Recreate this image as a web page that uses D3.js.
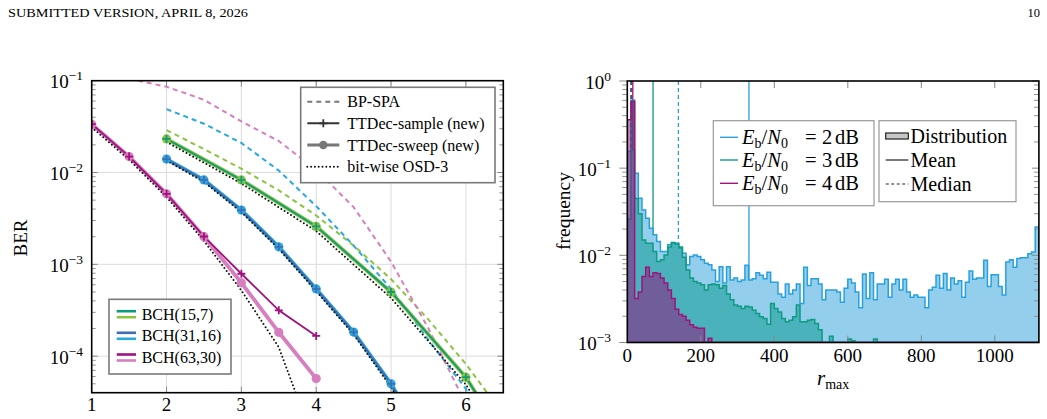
<!DOCTYPE html>
<html>
<head>
<meta charset="utf-8">
<script src="https://cdn.jsdelivr.net/npm/d3@7"></script>
<style>
  body { margin: 0; background: #fff; }
  svg { font-family: "Liberation Serif", "DejaVu Serif", serif; }
</style>
</head>
<body>
<svg id="fig" width="1047" height="419"></svg>
<script>
// ---------------- data: BER vs Eb/N0 (left panel)
const bch15_x      = [2, 3, 4, 5, 6, 7];
const bch15_sample = [0.0232, 0.0083, 0.00259, 5.0e-4, 5.9e-5, 3e-6];
const bch15_sweep  = [0.0232, 0.0083, 0.00259, 5.0e-4, 5.9e-5, 3e-6];
const bch15_osd    = [0.0215, 0.0076, 0.0023, 4.3e-4, 4.9e-5, 2.5e-6];
const bch15_bp_x   = [2, 2.5, 3, 3.5, 4, 4.5, 5, 5.5, 6, 6.5, 7];
const bch15_bp     = [0.029, 0.018, 0.011, 0.0064, 0.0034, 0.0016, 6.9e-4, 2.5e-4, 8.2e-5, 2.3e-5, 5e-6];

const bch31_x      = [2, 2.5, 3, 3.5, 4, 4.5, 5, 5.5];
const bch31_sample = [0.014, 0.0083, 0.0039, 0.00155, 5.4e-4, 1.83e-4, 5.0e-5, 1.0e-5];
const bch31_sweep  = [0.014, 0.0083, 0.0039, 0.00155, 5.4e-4, 1.83e-4, 5.0e-5, 1.0e-5];
const bch31_osd    = [0.0135, 0.0079, 0.0037, 0.00147, 5.1e-4, 1.72e-4, 4.6e-5, 9e-6];
const bch31_bp_x   = [2, 2.5, 3, 3.5, 4, 4.5, 5, 5.5, 6, 6.5];
const bch31_bp     = [0.049, 0.034, 0.021, 0.0105, 0.0043, 0.0016, 5.4e-4, 1.5e-4, 4.4e-5, 1e-5];

const bch63_x      = [1, 1.5, 2, 2.5, 3, 3.5, 4];
const bch63_sample = [0.0336, 0.0149, 0.00586, 0.00201, 7.9e-4, 3.16e-4, 1.66e-4];
const bch63_sweep  = [0.0336, 0.0149, 0.00586, 0.0020, 6.3e-4, 1.82e-4, 5.7e-5];
const bch63_osd    = [0.031, 0.0138, 0.0054, 0.0018, 5.2e-4, 1.25e-4, 1.0e-5];
const bch63_bp_x   = [1.5, 2, 2.5, 3, 3.5, 4, 4.5, 5, 5.5, 6, 6.5];
const bch63_bp     = [0.105, 0.086, 0.062, 0.036, 0.022, 0.0107, 0.0042, 0.00107, 2.0e-4, 3e-5, 3e-6];

const codeNames = ["BCH(15,7)", "BCH(31,16)", "BCH(63,30)"];
const methodNames = ["BP-SPA", "TTDec-sample (new)", "TTDec-sweep (new)", "bit-wise OSD-3"];
const berTicksX = [1, 2, 3, 4, 5, 6];
const berTicksY = [-4, -3, -2, -1];

// ---------------- data: histogram of r_max (right panel), bins of width 10
const binWidth = 10;
const freq2dB = [0.155, 0.16, 0.0874, 0.0452, 0.0332, 0.0267, 0.0205, 0.0172, 0.0144, 0.0111,
  0.0111, 0.0132, 0.0138, 0.0138, 0.0121, 0.0106, 0.0078, 0.0097, 0.0101, 0.0097,
  0.0089, 0.0081, 0.0078, 0.0068, 0.0050, 0.0074, 0.0048, 0.0074, 0.0052, 0.0055,
  0.0050, 0.0052, 0.0077, 0.0052, 0.0054, 0.0063, 0.0059, 0.0054, 0.0064, 0.0049,
  0.0049, 0.0036, 0.0033, 0.0047, 0.0036, 0.0040, 0.0047, 0.0028, 0.0073, 0.0045,
  0.0054, 0.0054, 0.0047, 0.0031, 0.0040, 0.0040, 0.0040, 0.0038, 0.0029, 0.0042,
  0.0053, 0.0048, 0.0038, 0.0025, 0.0061, 0.0032, 0.0063, 0.0031, 0.0047, 0.0047,
  0.0053, 0.0033, 0.0047, 0.0053, 0.0040, 0.0053, 0.0038, 0.0033, 0.0035, 0.0033,
  0.0033, 0.0025, 0.0040, 0.0043, 0.0059, 0.0042, 0.0062, 0.0040, 0.0055, 0.0047,
  0.0051, 0.0033, 0.0049, 0.0066, 0.0053, 0.0055, 0.0055, 0.0088, 0.0044, 0.0060,
  0.0060, 0.0044, 0.0035, 0.0084, 0.0089, 0.0073, 0.0092, 0.0094, 0.0094, 0.0104,
  0.0109, 0.0211];
const freq3dB = [0.026, 0.60, 0.045, 0.030, 0.015, 0.0138, 0.0138, 0.0111, 0.0085, 0.0089,
  0.0101, 0.0125, 0.0140, 0.0135, 0.0125, 0.0095, 0.0068, 0.0055, 0.0050, 0.0048,
  0.0046, 0.0040, 0.0046, 0.0047, 0.0046, 0.0042, 0.0045, 0.0036, 0.0031, 0.0027,
  0.0026, 0.00245, 0.0026, 0.00256, 0.00235, 0.00215, 0.00197, 0.00188, 0.00162, 0.0028,
  0.00245, 0.00224, 0.00188, 0.00173, 0.0018, 0.00197, 0.0027, 0.00173, 0.00173, 0.0018,
  0.00183, 0.00165, 0.0014, 0, 0, 0.00118, 0, 0, 0, 0,
  0.0011, 0.00105, 0, 0, 0, 0, 0, 0.0011, 0, 0,
  0, 0, 0, 0, 0, 0, 0, 0, 0, 0,
  0, 0, 0, 0, 0, 0, 0, 0, 0, 0,
  0, 0, 0, 0, 0, 0, 0, 0, 0, 0,
  0, 0, 0, 0, 0, 0, 0, 0, 0, 0,
  0, 0];
const freq4dB = [0.36, 0.58, 0.0032, 0.0038, 0.0057, 0.0073, 0.0057, 0.0063, 0.0062, 0.0055,
  0.0048, 0.0040, 0.0032, 0.0024, 0.0021, 0.0020, 0.0018, 0.0016, 0.0015, 0.00146,
  0.00146, 0, 0.00112, 0, 0, 0, 0, 0, 0, 0,
  0, 0, 0, 0, 0, 0, 0, 0, 0, 0,
  0, 0, 0, 0, 0, 0, 0, 0, 0, 0,
  0, 0, 0, 0, 0, 0, 0, 0, 0, 0,
  0, 0, 0, 0, 0, 0, 0, 0, 0, 0,
  0, 0, 0, 0, 0, 0, 0, 0, 0, 0,
  0, 0, 0, 0, 0, 0, 0, 0, 0, 0,
  0, 0, 0, 0, 0, 0, 0, 0, 0, 0,
  0, 0, 0, 0, 0, 0, 0, 0, 0, 0,
  0, 0];
const meanR   = [331, 70, 15];
const medianR = [139, 9, 12];
const snrLabels = ["2", "3", "4"];
const histTicksX = [0, 200, 400, 600, 800, 1000];
const histTicksY = [-3, -2, -1, 0];

// ---------------- page
const svg = d3.select("#fig");

svg.append("text").attr("x", 8).attr("y", 17).style("font-size", "12.5px")
   .attr("textLength", 240).attr("lengthAdjust", "spacingAndGlyphs")
   .text("SUBMITTED VERSION, APRIL 8, 2026");
svg.append("text").attr("x", 1040).attr("y", 17).attr("text-anchor", "end")
   .style("font-size", "12.5px").text("10");

function powLabel(g, x, y, exp, anchor, fs, sfs) {
  const t = g.append("text").attr("x", x).attr("y", y).attr("text-anchor", anchor)
             .style("font-size", fs + "px");
  t.append("tspan").text("10");
  t.append("tspan").attr("dy", -fs * 0.42).style("font-size", sfs + "px")
   .text(exp < 0 ? "\u2212" + (-exp) : String(exp));
}

// =============== LEFT PANEL ===============
const L = {x0: 91.7, x1: 503.3, y0: 80.7, y1: 392.7};
const xL = d3.scaleLinear().domain([1, 6.5]).range([L.x0, L.x1]);
const yL = d3.scaleLog().domain([4e-5, 0.1]).range([L.y1, L.y0]);

const gL = svg.append("g");
gL.append("clipPath").attr("id", "clipL").append("rect")
  .attr("x", L.x0).attr("y", L.y0).attr("width", L.x1 - L.x0).attr("height", L.y1 - L.y0);

// grid
gL.selectAll("line.gx").data(berTicksX.slice(1)).enter().append("line")
  .attr("x1", d => xL(d)).attr("x2", d => xL(d)).attr("y1", L.y0).attr("y2", L.y1)
  .attr("stroke", "#dcdcdc").attr("stroke-width", 1);
gL.selectAll("line.gy").data(berTicksY.slice(0, 3)).enter().append("line")
  .attr("x1", L.x0).attr("x2", L.x1).attr("y1", d => yL(Math.pow(10, d))).attr("y2", d => yL(Math.pow(10, d)))
  .attr("stroke", "#dcdcdc").attr("stroke-width", 1);

// ticks
const minorL = yL.ticks().filter(v => Math.abs(Math.log10(v) - Math.round(Math.log10(v))) > 1e-6);
[[L.x0, 1], [L.x1, -1]].forEach(([x, s]) => {
  gL.selectAll(null).data(minorL).enter().append("line")
    .attr("x1", x).attr("x2", x + s * 4).attr("y1", d => yL(d)).attr("y2", d => yL(d))
    .attr("stroke", "#888").attr("stroke-width", 0.9);
  gL.selectAll(null).data(berTicksY).enter().append("line")
    .attr("x1", x).attr("x2", x + s * 6).attr("y1", d => yL(Math.pow(10, d))).attr("y2", d => yL(Math.pow(10, d)))
    .attr("stroke", "#888").attr("stroke-width", 1);
});
[[L.y0, 1], [L.y1, -1]].forEach(([y, s]) => {
  gL.selectAll(null).data(berTicksX).enter().append("line")
    .attr("x1", d => xL(d)).attr("x2", d => xL(d)).attr("y1", y).attr("y2", y + s * 6)
    .attr("stroke", "#888").attr("stroke-width", 1);
});

// curves
const codes = [
  {x: bch15_x, sample: bch15_sample, sweep: bch15_sweep, osd: bch15_osd, bpx: bch15_bp_x, bp: bch15_bp, dark: "#0f9a7c", light: "#8dc43f"},
  {x: bch31_x, sample: bch31_sample, sweep: bch31_sweep, osd: bch31_osd, bpx: bch31_bp_x, bp: bch31_bp, dark: "#3f6db3", light: "#28a8e0"},
  {x: bch63_x, sample: bch63_sample, sweep: bch63_sweep, osd: bch63_osd, bpx: bch63_bp_x, bp: bch63_bp, dark: "#a0127e", light: "#d77ebf"}
];
const lineL = d3.line().x(d => xL(d[0])).y(d => yL(d[1]));
const plot = gL.append("g").attr("clip-path", "url(#clipL)");

codes.forEach(c => {
  plot.append("path").datum(d3.zip(c.bpx, c.bp)).attr("d", lineL)
    .attr("fill", "none").attr("stroke", c.light).attr("stroke-width", 2)
    .attr("stroke-dasharray", "5,4");
});
codes.forEach(c => {
  const pts = d3.zip(c.x, c.sweep);
  plot.append("path").datum(pts).attr("d", lineL)
    .attr("fill", "none").attr("stroke", c.light).attr("stroke-width", 3.8);
  plot.append("path").datum(d3.zip(c.x, c.sample)).attr("d", lineL)
    .attr("fill", "none").attr("stroke", c.dark).attr("stroke-width", 1.8);
  plot.append("path").datum(d3.zip(c.x, c.osd)).attr("d", lineL)
    .attr("fill", "none").attr("stroke", "#111").attr("stroke-width", 2)
    .attr("stroke-linecap", "round").attr("stroke-dasharray", "0,3.8");
  plot.selectAll(null).data(pts).enter().append("circle")
    .attr("cx", d => xL(d[0])).attr("cy", d => yL(d[1])).attr("r", 4.6)
    .attr("fill", c.light);
  plot.selectAll(null).data(d3.zip(c.x, c.sample)).enter().append("path")
    .attr("transform", d => `translate(${xL(d[0])},${yL(d[1])})`)
    .attr("d", "M-4,0H4M0,-4V4").attr("stroke", c.dark).attr("stroke-width", 1.8);
});

// frame
gL.append("rect").attr("x", L.x0).attr("y", L.y0).attr("width", L.x1 - L.x0).attr("height", L.y1 - L.y0)
  .attr("fill", "none").attr("stroke", "#000").attr("stroke-width", 1.6);

// tick labels
berTicksX.forEach(v => {
  gL.append("text").attr("x", xL(v)).attr("y", 411).attr("text-anchor", "middle")
    .style("font-size", "19px").text(v);
});
berTicksY.forEach(e => powLabel(gL, 83, yL(Math.pow(10, e)) + 7.5, e, "end", 19, 13.5));
gL.append("text").attr("transform", "translate(27,238) rotate(-90)").attr("text-anchor", "middle")
  .style("font-size", "19px").text("BER");

// legend: methods
const lg1 = gL.append("g");
lg1.append("rect").attr("x", 300.7).attr("y", 87.3).attr("width", 194.3).attr("height", 95.4)
   .attr("fill", "#fff").attr("stroke", "#7a7a7a").attr("stroke-width", 1.6);
const rows1 = [101.7, 123.3, 145, 166.7];
methodNames.forEach((name, i) => {
  const y = rows1[i];
  const ln = lg1.append("line").attr("x1", 307.3).attr("x2", 339.3).attr("y1", y).attr("y2", y).attr("fill", "none");
  if (i === 0) ln.attr("stroke", "#777").attr("stroke-width", 2).attr("stroke-dasharray", "5,4");
  if (i === 1) {
    ln.attr("stroke", "#333").attr("stroke-width", 2);
    lg1.append("path").attr("transform", `translate(323.3,${y})`).attr("d", "M-4,0H4M0,-4V4")
       .attr("stroke", "#333").attr("stroke-width", 1.8);
  }
  if (i === 2) {
    ln.attr("stroke", "#777").attr("stroke-width", 3);
    lg1.append("circle").attr("cx", 323.3).attr("cy", y).attr("r", 4.2).attr("fill", "#777");
  }
  if (i === 3) ln.attr("stroke", "#111").attr("stroke-width", 2).attr("stroke-linecap", "round")
                 .attr("stroke-dasharray", "0,3.8");
  lg1.append("text").attr("x", 347.3).attr("y", y + 5.5).style("font-size", "16px").text(name);
});

// legend: codes
const lg2 = gL.append("g");
lg2.append("rect").attr("x", 109).attr("y", 299.3).attr("width", 122).attr("height", 74.7)
   .attr("fill", "#fff").attr("stroke", "#7a7a7a").attr("stroke-width", 1.6);
const rows2 = [314.2, 335.8, 357.5];
codes.forEach((c, i) => {
  const y = rows2[i];
  lg2.append("line").attr("x1", 116.7).attr("x2", 136).attr("y1", y - 3).attr("y2", y - 3)
     .attr("stroke", c.dark).attr("stroke-width", 2.6);
  lg2.append("line").attr("x1", 116.7).attr("x2", 136).attr("y1", y + 3).attr("y2", y + 3)
     .attr("stroke", c.light).attr("stroke-width", 2.6);
  lg2.append("text").attr("x", 141.7).attr("y", y + 5.5).style("font-size", "16px").text(codeNames[i]);
});

// =============== RIGHT PANEL ===============
const R = {x0: 627.3, x1: 1038.9, y0: 81, y1: 342.5};
const xR = d3.scaleLinear().domain([0, binWidth * freq2dB.length]).range([R.x0, R.x1]);
const yR = d3.scaleLog().domain([1e-3, 1]).range([R.y1, R.y0]).clamp(true);
const gR = svg.append("g");
gR.append("clipPath").attr("id", "clipR").append("rect")
  .attr("x", R.x0).attr("y", R.y0).attr("width", R.x1 - R.x0).attr("height", R.y1 - R.y0);

const hist = [
  {f: freq2dB, stroke: "#27a1dc", fill: "rgb(147,207,237)"},
  {f: freq3dB, stroke: "#0f9a82", fill: "rgba(0,150,135,0.5)"},
  {f: freq4dB, stroke: "#a0127e", fill: "rgba(150,10,120,0.5)"}
];
const pr = gR.append("g").attr("clip-path", "url(#clipR)");

// mean / median lines (behind the histograms)
hist.forEach((h, i) => {
  pr.append("line").attr("x1", xR(meanR[i])).attr("x2", xR(meanR[i])).attr("y1", R.y0).attr("y2", R.y1)
    .attr("stroke", h.stroke).attr("stroke-width", 1.3);
  pr.append("line").attr("x1", xR(medianR[i])).attr("x2", xR(medianR[i])).attr("y1", R.y0).attr("y2", R.y1)
    .attr("stroke", h.stroke).attr("stroke-width", 1.3).attr("stroke-dasharray", "4,3");
});

const areaR = d3.area().curve(d3.curveStepAfter)
  .x(d => xR(d[0])).y0(yR(1e-3)).y1(d => yR(Math.max(d[1], 5e-4)));
hist.forEach(h => {
  const pts = h.f.map((v, k) => [k * binWidth, v]);
  pts.push([h.f.length * binWidth, h.f[h.f.length - 1]]);
  pr.append("path").datum(pts).attr("d", areaR)
    .attr("fill", h.fill).attr("stroke", h.stroke).attr("stroke-width", 1.5);
});

// ticks
const minorR = yR.ticks().filter(v => Math.abs(Math.log10(v) - Math.round(Math.log10(v))) > 1e-6);
gR.selectAll(null).data(minorR).enter().append("line")
  .attr("x1", R.x0 - 5).attr("x2", R.x0).attr("y1", d => yR(d)).attr("y2", d => yR(d))
  .attr("stroke", "#888").attr("stroke-width", 0.9);
gR.selectAll(null).data(histTicksY).enter().append("line")
  .attr("x1", R.x0 - 8).attr("x2", R.x0).attr("y1", d => yR(Math.pow(10, d))).attr("y2", d => yR(Math.pow(10, d)))
  .attr("stroke", "#888").attr("stroke-width", 1);
gR.selectAll(null).data(minorR).enter().append("line")
  .attr("x1", R.x1 - 5).attr("x2", R.x1).attr("y1", d => yR(d)).attr("y2", d => yR(d))
  .attr("stroke", "#888").attr("stroke-width", 0.9);
gR.selectAll(null).data(histTicksY).enter().append("line")
  .attr("x1", R.x1 - 7).attr("x2", R.x1).attr("y1", d => yR(Math.pow(10, d))).attr("y2", d => yR(Math.pow(10, d)))
  .attr("stroke", "#888").attr("stroke-width", 1);
[[R.y0, 1], [R.y1, -1]].forEach(([y, s]) => {
  gR.selectAll(null).data(histTicksX.slice(1)).enter().append("line")
    .attr("x1", d => xR(d)).attr("x2", d => xR(d)).attr("y1", y).attr("y2", y + s * 7)
    .attr("stroke", "#888").attr("stroke-width", 1);
});

gR.append("rect").attr("x", R.x0).attr("y", R.y0).attr("width", R.x1 - R.x0).attr("height", R.y1 - R.y0)
  .attr("fill", "none").attr("stroke", "#000").attr("stroke-width", 1.6);

histTicksX.forEach(v => {
  gR.append("text").attr("x", xR(v)).attr("y", 361.5).attr("text-anchor", "middle")
    .style("font-size", "19px").text(v);
});
histTicksY.forEach(e => powLabel(gR, 611, yR(Math.pow(10, e)) + 7.5, e, "end", 19, 13.5));
gR.append("text").attr("transform", "translate(570,211) rotate(-90)").attr("text-anchor", "middle")
  .style("font-size", "19.5px").text("frequency");
const xl = gR.append("text").attr("x", 817).attr("y", 385).style("font-size", "21px");
xl.append("tspan").style("font-style", "italic").text("r");
xl.append("tspan").attr("dy", 4).style("font-size", "14px").text("max");

// legend: SNR
const lg3 = gR.append("g");
lg3.append("rect").attr("x", 713.3).attr("y", 120.7).attr("width", 160.7).attr("height", 85)
   .attr("fill", "#fff").attr("stroke", "#999").attr("stroke-width", 1.2);
const rows3 = [137.3, 160, 183.3];
hist.forEach((h, i) => {
  const y = rows3[i];
  lg3.append("line").attr("x1", 720).attr("x2", 738).attr("y1", y).attr("y2", y)
     .attr("stroke", h.stroke).attr("stroke-width", 1.4);
  const t = lg3.append("text").attr("x", 742).attr("y", y + 6.5).style("font-size", "20.5px");
  t.append("tspan").style("font-style", "italic").text("E");
  t.append("tspan").attr("dy", 4).style("font-size", "14px").text("b");
  t.append("tspan").attr("dy", -4).text("/");
  t.append("tspan").style("font-style", "italic").text("N");
  t.append("tspan").attr("dy", 4).style("font-size", "14px").text("0");
  t.append("tspan").attr("dy", -4).attr("x", 805).text("=");
  t.append("tspan").attr("x", 822).text(snrLabels[i]);
  t.append("tspan").attr("x", 835).text("dB");
});

// legend: line types
const lg4 = gR.append("g");
lg4.append("rect").attr("x", 879).attr("y", 120.7).attr("width", 137).attr("height", 81)
   .attr("fill", "#fff").attr("stroke", "#999").attr("stroke-width", 1.2);
lg4.append("rect").attr("x", 885.7).attr("y", 133).attr("width", 22.6).attr("height", 6)
   .attr("fill", "#c8c8c8").attr("stroke", "#222").attr("stroke-width", 1.2);
lg4.append("line").attr("x1", 885.7).attr("x2", 908.3).attr("y1", 160).attr("y2", 160)
   .attr("stroke", "#222").attr("stroke-width", 1.2);
lg4.append("line").attr("x1", 885.7).attr("x2", 908.3).attr("y1", 184).attr("y2", 184)
   .attr("stroke", "#222").attr("stroke-width", 1.2).attr("stroke-dasharray", "3,2.5");
["Distribution", "Mean", "Median"].forEach((s, i) => {
  lg4.append("text").attr("x", 910.5).attr("y", [136, 160, 184][i] + 6.5)
     .style("font-size", "20px").text(s);
});
</script>
</body>
</html>
